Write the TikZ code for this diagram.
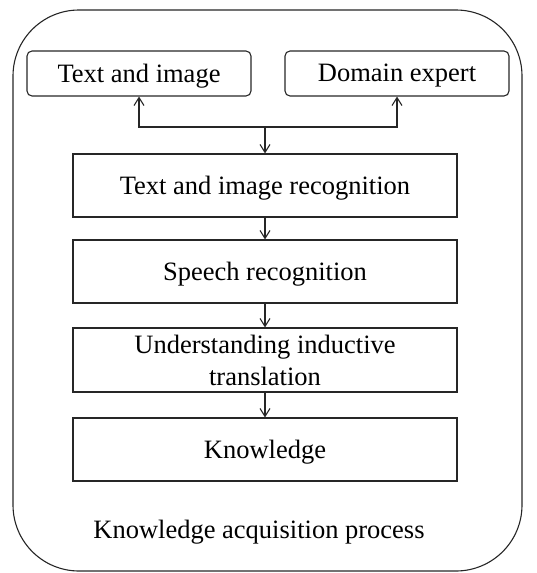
\documentclass[tikz,border=0pt]{standalone}
\usepackage{fontspec}
\setmainfont{Liberation Serif}
\usetikzlibrary{arrows.meta}
\newcommand{\dn}[1]{\raisebox{-2.5pt}[\height][\depth]{#1}}
\begin{document}
\begin{tikzpicture}[x=1pt,y=-1pt,
  line width=1.1pt, draw=black!85,
  every node/.style={font=\fontsize{26.5}{32}\selectfont, text=black, inner sep=0pt},
  srcbox/.style={draw, rounded corners=5pt, minimum width=224pt, minimum height=45pt},
  stepbox/.style={draw, minimum width=384pt, minimum height=63pt, align=center},
  arr/.style={-{Straight Barb[length=8pt,width=10pt]}}]
\useasboundingbox (0,0) rectangle (537,573);
\draw[rounded corners=66pt] (13,10) rectangle (522,571);
\node[srcbox] (ti) at (139,73.5) {\dn{Text and image}};
\node[srcbox] (de) at (397,73.5) {\dn{Domain expert}};
\node[stepbox] (b1) at (265,185.5) {\dn{Text and image recognition}};
\node[stepbox] (b2) at (265,271.5) {\dn{Speech recognition}};
\node[stepbox, minimum height=62pt] (b3) at (265,360) {\raisebox{-3pt}[\height][\depth]{\begin{tabular}{@{}c@{}}Understanding inductive\\translation\end{tabular}}};
\node[stepbox] (b4) at (265,449.5) {\dn{Knowledge}};
\node (cap) at (259,530) {\dn{Knowledge acquisition process}};
\coordinate (j) at (265,127);
\draw[arr] (j) -- (b1.north);
\draw[arr] (j) -| (ti.south);
\draw[arr] (j) -| (de.south);
\draw[arr] (b1) -- (b2);
\draw[arr] (b2) -- (b3);
\draw[arr] (b3) -- (b4);
\end{tikzpicture}
\end{document}
